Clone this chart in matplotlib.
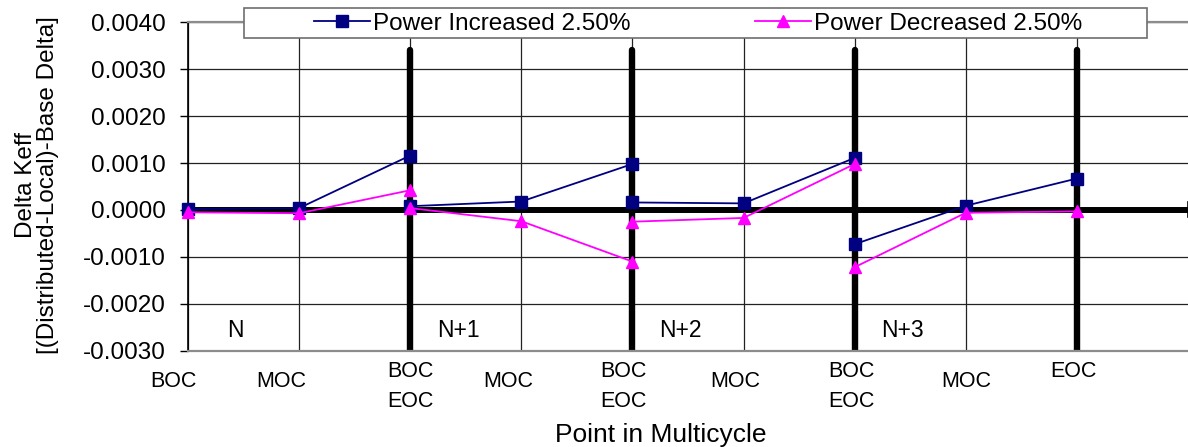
import matplotlib
matplotlib.use("Agg")
import matplotlib.pyplot as plt
from matplotlib.patches import Rectangle

plt.rcParams["font.family"] = ["Liberation Sans", "DejaVu Sans"]

# ---- data -------------------------------------------------------------
cycles = ["N", "N+1", "N+2", "N+3"]
stages = ["BOC", "MOC", "EOC"]

# Delta Keff per cycle, ordered BOC, MOC, EOC within each cycle
power_up = [
    0.00002, 0.00004, 0.00116,     # N
    0.00008, 0.00018, 0.00098,     # N+1
    0.00016, 0.00014, 0.00111,     # N+2
    -0.00073, 0.00009, 0.00067,    # N+3
]
power_down = [
    -0.00005, -0.00007, 0.00042,   # N
    0.00004, -0.00024, -0.00110,   # N+1
    -0.00025, -0.00017, 0.00098,   # N+2
    -0.00122, -0.00006, -0.00003,  # N+3
]

category_labels = ["BOC", "MOC", "BOC\nEOC", "MOC", "BOC\nEOC",
                   "MOC", "BOC\nEOC", "MOC", "EOC"]
y_ticks = [-0.003, -0.002, -0.001, 0.0, 0.001, 0.002, 0.003, 0.004]

label_up = "Power Increased 2.50%"
label_down = "Power Decreased 2.50%"

# ---- figure -----------------------------------------------------------
W, H = 1188, 447
fig = plt.figure(figsize=(W / 100, H / 100), dpi=100)
ax = fig.add_axes([188 / W, (H - 350.7) / H, 1000 / W, 328.4 / H])

ax.set_xlim(0, 9)
ax.set_ylim(-0.003, 0.004)

FS = 17.5
NAVY = "#000080"
MAGENTA = "#FF00FF"

# grid
ax.set_yticks(y_ticks)
ax.set_yticklabels([f"{v:.4f}" for v in y_ticks], fontsize=FS)
ax.set_xticks(range(0, 9))
ax.set_xticklabels([])
ax.tick_params(axis="x", length=0)
ax.tick_params(axis="y", direction="out", length=6, width=1, pad=10,
               color="black")
ax.grid(True, color="#222222", linewidth=0.9, zorder=0)
ax.set_axisbelow(True)

ax.spines["right"].set_visible(False)
ax.spines["left"].set_color("black")
ax.spines["left"].set_linewidth(1.2)
ax.spines["top"].set_color("#8c8c8c")
ax.spines["top"].set_linewidth(1.6)
ax.spines["bottom"].set_color("#8c8c8c")
ax.spines["bottom"].set_linewidth(1.6)

# heavy zero line and cycle boundaries
ax.plot([0, 9], [0, 0], color="black", linewidth=4.3, zorder=2,
        solid_capstyle="butt", clip_on=False)
ax.plot([9, 9], [-0.00016, 0.00016], color="black", linewidth=1.2,
        zorder=2, clip_on=False)
for c in range(1, len(cycles) + 1):
    ax.plot([2 * c, 2 * c], [-0.003, 0.00342], color="black",
            linewidth=4.6, zorder=2, solid_capstyle="round")

# series, one segment per cycle
n_st = len(stages)
for ci, name in enumerate(cycles):
    xs = [2 * ci + si for si in range(n_st)]
    up = power_up[ci * n_st:(ci + 1) * n_st]
    dn = power_down[ci * n_st:(ci + 1) * n_st]
    ax.plot(xs, up, color=NAVY, linewidth=1.3, marker="s", markersize=8,
            markerfacecolor=NAVY, markeredgecolor=NAVY, zorder=4,
            label=label_up if ci == 0 else None, clip_on=False)
    ax.plot(xs, dn, color=MAGENTA, linewidth=1.3, marker="^", markersize=9,
            markerfacecolor=MAGENTA, markeredgecolor=MAGENTA, zorder=5,
            label=label_down if ci == 0 else None, clip_on=False)
    ax.text(2 * ci + 0.43, -0.0027, name, fontsize=16.5, ha="center",
            va="baseline", zorder=6)

# category labels under the axis
nudge_x = [-15, -18, 0, -13, -9, -8, -3, 0, -3]
for i, lab in enumerate(category_labels):
    lines = lab.split("\n")
    if len(lines) == 1:
        dys = [-36.3] if i < len(category_labels) - 1 else [-26.3]
    else:
        dys = [-26.3, -56.3]
    for line, dy in zip(lines, dys):
        ax.annotate(line, xy=(i, 0), xycoords=("data", "axes fraction"),
                    xytext=(nudge_x[i], dy), textcoords="offset pixels",
                    ha="center", va="baseline", fontsize=15.5,
                    annotation_clip=False)

# axis titles
fig.text(661 / W, 5.3 / H, "Point in Multicycle", fontsize=19,
         ha="center", va="baseline")
fig.text(37 / W, (H - 185) / H,
         "Delta Keff\n[(Distributed-Local)-Base Delta]",
         fontsize=FS, rotation=90, ha="center", va="center",
         multialignment="center", linespacing=1.0)

# legend with its own box
leg = ax.legend(loc="center", bbox_to_anchor=(698 / W, (H - 23.5) / H),
                bbox_transform=fig.transFigure, ncol=2, frameon=False,
                fontsize=FS, handlelength=2.3, handletextpad=0.15,
                columnspacing=5.1, borderpad=0.0, borderaxespad=0.0)
leg.set_zorder(10)
box = Rectangle((244 / W, (H - 38) / H), (1147 - 244) / W, 30 / H,
                transform=fig.transFigure, facecolor="white",
                edgecolor="#6e6e6e", linewidth=1.2, zorder=8, clip_on=False)
ax.add_artist(box)

fig.savefig("out.png", dpi=100)
